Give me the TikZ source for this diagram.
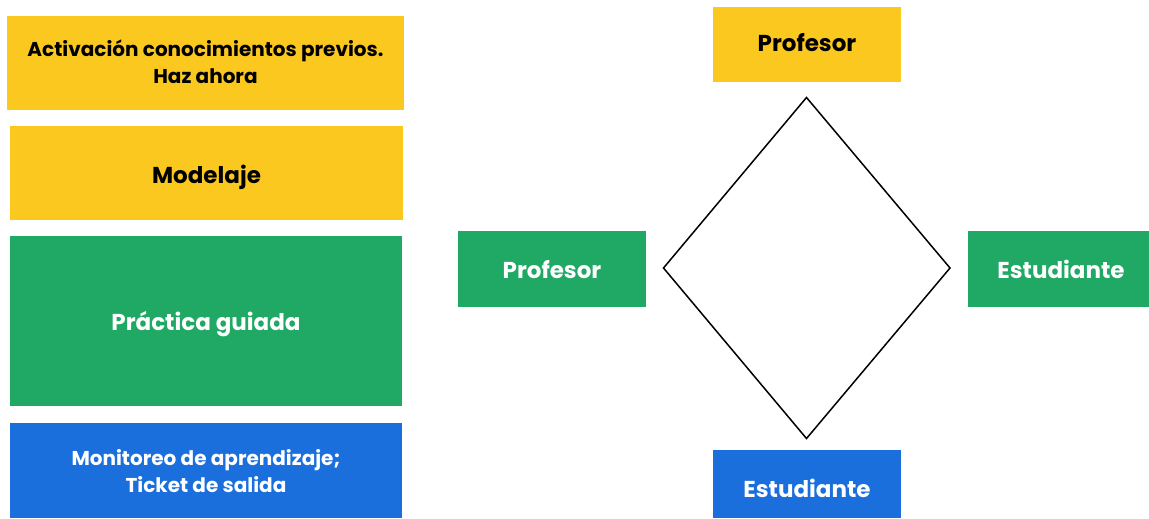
\documentclass[tikz,border=0pt]{standalone}
\usepackage{fontspec}
\setmainfont{Poppins}
\definecolor{cyellow}{HTML}{FBC820}
\definecolor{cgreen}{HTML}{20A964}
\definecolor{cblue}{HTML}{1A6FDC}
\tikzset{
  box/.style={rectangle, inner sep=0pt, align=center, text depth=0pt},
  ybox/.style={box, fill=cyellow, text=black},
  gbox/.style={box, fill=cgreen, text=white},
  bbox/.style={box, fill=cblue, text=white},
  big/.style={font=\bfseries\fontsize{23}{27}\selectfont, text height=16.1pt},
  small/.style={font=\bfseries\fontsize{20}{26.6}\selectfont, text height=40.6pt},
  rhomb/.style={draw=black, line width=1.5pt, line join=miter}
}
\begin{document}
\begin{tikzpicture}[x=1pt, y=-1pt]
\useasboundingbox (0,0) rectangle (1149,519);
% left column
\node[ybox, small, minimum width=397pt, minimum height=94pt] (act) at (205.5,63) {Activación conocimientos previos.\\Haz ahora};
\node[ybox, big, minimum width=393pt, minimum height=94pt] (mod) at (206.5,173) {\raisebox{-2pt}{Modelaje}};
\node[gbox, big, minimum width=392pt, minimum height=170pt] (pra) at (206,321) {\raisebox{-1.7pt}{Práctica guiada}};
\node[bbox, small, minimum width=392pt, minimum height=95pt] (mon) at (206,470) {\raisebox{-2pt}{Monitoreo de aprendizaje;}\\\raisebox{-2pt}{Ticket de salida}};
% right diagram
\node[ybox, big, minimum width=188pt, minimum height=75pt] (ptop) at (807,44.5) {\raisebox{1pt}{Profesor}};
\node[gbox, big, minimum width=188pt, minimum height=76pt] (pleft) at (552,269) {\raisebox{-1pt}{Profesor}};
\node[gbox, big, minimum width=181pt, minimum height=76pt] (eright) at (1058.5,269) {\hspace*{5pt}\raisebox{-1pt}{Estudiante}};
\node[bbox, big, minimum width=188pt, minimum height=68pt] (ebot) at (807,484) {\raisebox{-5pt}{Estudiante}};
\coordinate (dt) at (806.5,97.5);
\coordinate (dr) at (950,268);
\coordinate (db) at (806.5,438.5);
\coordinate (dl) at (663.5,268);
\draw[rhomb] (dt) -- (dr) -- (db) -- (dl) -- cycle;
\end{tikzpicture}
\end{document}
